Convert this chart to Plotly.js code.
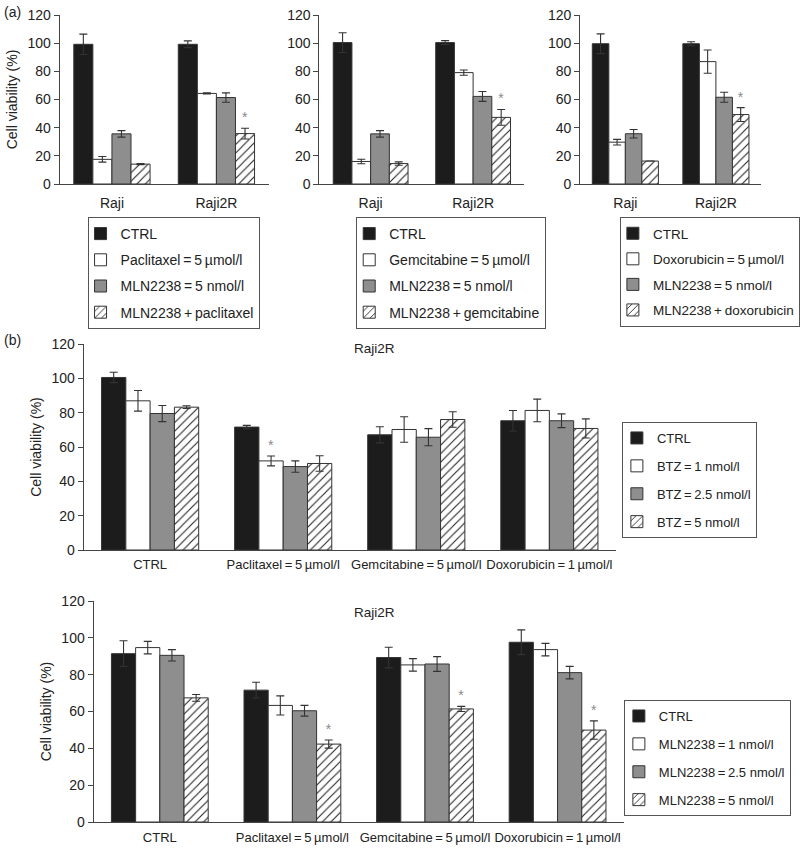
<!DOCTYPE html>
<html><head><meta charset="utf-8">
<script src="https://cdn.plot.ly/plotly-3.0.1.min.js"></script>
<style>body{margin:0;background:#fff}#chart{width:800px;height:848px}</style>
</head><body><div id="chart"></div>
<script>
const T = '\u2009';
// ---------- Panel (a) data ----------
const catsA = ['Raji', 'Raji2R'];
const a1Names = ['CTRL', 'Paclitaxel'+T+'='+T+'5'+T+'µmol/l', 'MLN2238'+T+'='+T+'5 nmol/l', 'MLN2238'+T+'+'+T+'paclitaxel'];
const a1Ctrl = [99.2, 99.2],  a1CtrlErr = [7.2, 2.4];
const a1Drug = [17.5, 64.3],  a1DrugErr = [2.0, 0.4];
const a1Mln  = [35.6, 61.4],  a1MlnErr  = [2.3, 3.3];
const a1Comb = [14.1, 35.8],  a1CombErr = [0.4, 3.8];
const a1Star = ['', '*'];

const a2Names = ['CTRL', 'Gemcitabine'+T+'='+T+'5'+T+'µmol/l', 'MLN2238'+T+'='+T+'5 nmol/l', 'MLN2238'+T+'+'+T+'gemcitabine'];
const a2Ctrl = [100.4, 100.4], a2CtrlErr = [7.0, 1.4];
const a2Drug = [16.0, 79.1],   a2DrugErr = [1.6, 1.9];
const a2Mln  = [35.6, 62.2],   a2MlnErr  = [2.3, 3.5];
const a2Comb = [14.5, 47.3],   a2CombErr = [1.2, 5.6];
const a2Star = ['', '*'];

const a3Names = ['CTRL', 'Doxorubicin'+T+'='+T+'5'+T+'µmol/l', 'MLN2238'+T+'='+T+'5 nmol/l', 'MLN2238'+T+'+'+T+'doxorubicin'];
const a3Ctrl = [99.6, 99.6], a3CtrlErr = [7.0, 1.4];
const a3Drug = [29.7, 86.9], a3DrugErr = [2.0, 8.3];
const a3Mln  = [35.7, 61.6], a3MlnErr  = [3.0, 3.5];
const a3Comb = [16.3, 49.3], a3CombErr = [0.0, 4.9];
const a3Star = ['', '*'];

// ---------- Panel (b) data ----------
const catsB = ['CTRL', 'Paclitaxel'+T+'='+T+'5'+T+'µmol/l', 'Gemcitabine'+T+'='+T+'5'+T+'µmol/l', 'Doxorubicin'+T+'='+T+'1'+T+'µmol/l'];
const b1Names = ['CTRL', 'BTZ'+T+'='+T+'1 nmol/l', 'BTZ'+T+'='+T+'2.5 nmol/l', 'BTZ'+T+'='+T+'5 nmol/l'];
const b1S0 = [100.5, 71.6, 67.1, 75.3], b1E0 = [3.0, 1.0, 4.7, 6.0];
const b1S1 = [86.9, 51.9, 70.2, 81.3],  b1E1 = [6.0, 2.9, 7.4, 6.6];
const b1S2 = [79.5, 48.6, 65.7, 75.3],  b1E2 = [4.7, 3.3, 5.0, 4.0];
const b1S3 = [83.2, 50.4, 76.0, 70.8],  b1E3 = [0.8, 4.5, 4.5, 5.6];
const b1Star = ['', '*', '', ''];   // on BTZ = 1 nmol/l series

const b2Names = ['CTRL', 'MLN2238'+T+'='+T+'1 nmol/l', 'MLN2238'+T+'='+T+'2.5 nmol/l', 'MLN2238'+T+'='+T+'5 nmol/l'];
const b2S0 = [91.4, 71.6, 89.3, 97.6], b2E0 = [7.0, 4.3, 5.6, 6.7];
const b2S1 = [94.7, 63.3, 85.3, 93.6], b2E1 = [3.4, 5.2, 3.4, 3.4];
const b2S2 = [90.5, 60.4, 85.8, 81.1], b2E2 = [3.1, 2.9, 4.0, 3.4];
const b2S3 = [67.4, 42.3, 61.4, 49.9], b2E3 = [1.8, 2.2, 1.4, 5.0];
const b2Star = ['', '*', '*', '*'];  // on MLN2238 = 5 nmol/l series

// ---------- styling ----------
const FONT = 'Liberation Sans, Arial, sans-serif';
const INK = '#222';
const fills = ['#1c1c1c', '#ffffff', '#8e8e8e', '#ffffff'];
const W = 800, H = 848;
const px = v => v / W, py = v => 1 - v / H;

const traces = [];
function panel(xa, ya, cats, names, series, errs, starSeries, stars, legendId) {
  series.forEach((ys, i) => {
    const m = {color: fills[i], line: {color: '#333', width: 1}};
    if (i === 3) m.pattern = {shape: '/', fgcolor: '#222', bgcolor: '#ffffff', size: 6, solidity: 0.18};
    traces.push({
      type: 'bar', x: cats, y: ys, name: names[i], xaxis: xa, yaxis: ya,
      offsetgroup: String(i), legend: legendId, legendgroup: legendId + i,
      marker: m,
      error_y: {type: 'data', array: errs[i], visible: true, color: '#333', thickness: 1.1, width: 4},
      hoverinfo: 'skip'
    });
  });
  // significance stars, placed above the error bar of the marked series
  const ys = series[starSeries], es = errs[starSeries];
  traces.push({
    type: 'bar', x: cats, base: ys.map((v, k) => stars[k] ? v + es[k] : null),
    y: ys.map((v, k) => stars[k] ? 0.01 : null),
    text: stars, textposition: 'outside', cliponaxis: false,
    textfont: {family: FONT, size: 14, color: '#8a8a8a'},
    offsetgroup: String(starSeries), xaxis: xa, yaxis: ya, legend: legendId,
    marker: {color: 'rgba(0,0,0,0)', line: {width: 0}}, showlegend: false, hoverinfo: 'skip'
  });
}

panel('x', 'y', catsA, a1Names, [a1Ctrl, a1Drug, a1Mln, a1Comb], [a1CtrlErr, a1DrugErr, a1MlnErr, a1CombErr], 3, a1Star, 'legend');
panel('x2', 'y2', catsA, a2Names, [a2Ctrl, a2Drug, a2Mln, a2Comb], [a2CtrlErr, a2DrugErr, a2MlnErr, a2CombErr], 3, a2Star, 'legend2');
panel('x3', 'y3', catsA, a3Names, [a3Ctrl, a3Drug, a3Mln, a3Comb], [a3CtrlErr, a3DrugErr, a3MlnErr, a3CombErr], 3, a3Star, 'legend3');
panel('x4', 'y4', catsB, b1Names, [b1S0, b1S1, b1S2, b1S3], [b1E0, b1E1, b1E2, b1E3], 1, b1Star, 'legend4');
panel('x5', 'y5', catsB, b2Names, [b2S0, b2S1, b2S2, b2S3], [b2E0, b2E1, b2E2, b2E3], 3, b2Star, 'legend5');

function xax(d, anchor, fs, stand) {
  return {domain: d, anchor: anchor, type: 'category', showline: true, linecolor: '#444', linewidth: 1,
    ticks: '', showgrid: false, zeroline: false, tickangle: 0, tickfont: {family: FONT, size: fs, color: INK},
    ticklabelstandoff: stand, fixedrange: true};
}
function yax(d, anchor, fs, title) {
  const o = {domain: d, anchor: anchor, range: [0, 120], dtick: 20, showline: true, linecolor: '#444', linewidth: 1,
    ticks: 'outside', ticklen: 5, tickcolor: '#444', showgrid: false, zeroline: false,
    tickfont: {family: FONT, size: fs, color: INK}, fixedrange: true};
  if (title) o.title = {text: title, font: {family: FONT, size: fs, color: INK}, standoff: 6};
  return o;
}
const yA = [py(184), py(15)];
function leg(x, y, gap, fs, ind) {
  return {x: px(x), y: py(y), xanchor: 'left', yanchor: 'top', bgcolor: '#fff', bordercolor: '#555', borderwidth: 1,
    font: {family: FONT, size: fs, color: INK}, traceorder: 'grouped', tracegroupgap: gap, itemclick: false,
    indentation: ind};
}

const layout = {
  width: W, height: H, margin: {l: 0, r: 0, t: 0, b: 0}, paper_bgcolor: '#fff', plot_bgcolor: '#fff',
  barmode: 'group', bargap: 0.27, bargroupgap: 0, showlegend: true,
  font: {family: FONT, color: INK},
  xaxis: xax([px(60), px(270)], 'y', 14, 6),
  yaxis: yax(yA, 'x', 14, 'Cell viability (%)'),
  xaxis2: xax([px(321), px(527)], 'y2', 14, 6),
  yaxis2: yax(yA, 'x2', 14),
  xaxis3: xax([px(583), px(765)], 'y3', 14, 6),
  yaxis3: yax(yA, 'x3', 14),
  xaxis4: xax([px(84), px(619)], 'y4', 13, 2),
  yaxis4: yax([py(550), py(344)], 'x4', 14, 'Cell viability (%)'),
  xaxis5: xax([px(94), px(627)], 'y5', 13, 3),
  yaxis5: yax([py(822), py(601)], 'x5', 14, 'Cell viability (%)'),
  legend: leg(88, 217, 5, 14, -8),
  legend2: leg(358, 217, 5, 14, -8),
  legend3: leg(623, 217, 5, 13.5, -8),
  legend4: leg(625, 422, 8, 13, -6),
  legend5: leg(627, 700, 8, 13, -6),
  annotations: [
    {text: '(a)', xref: 'paper', yref: 'paper', x: px(2), y: py(2), xanchor: 'left', yanchor: 'top', showarrow: false, font: {family: FONT, size: 14, color: INK}},
    {text: '(b)', xref: 'paper', yref: 'paper', x: px(2), y: py(330), xanchor: 'left', yanchor: 'top', showarrow: false, font: {family: FONT, size: 14, color: INK}},
    {text: 'Raji2R', xref: 'paper', yref: 'paper', x: px(376), y: py(348), xanchor: 'center', yanchor: 'middle', showarrow: false, font: {family: FONT, size: 13.5, color: INK}},
    {text: 'Raji2R', xref: 'paper', yref: 'paper', x: px(376), y: py(612), xanchor: 'center', yanchor: 'middle', showarrow: false, font: {family: FONT, size: 13.5, color: INK}}
  ]
};

Plotly.newPlot('chart', traces, layout, {staticPlot: true, displayModeBar: false});
</script></body></html>
